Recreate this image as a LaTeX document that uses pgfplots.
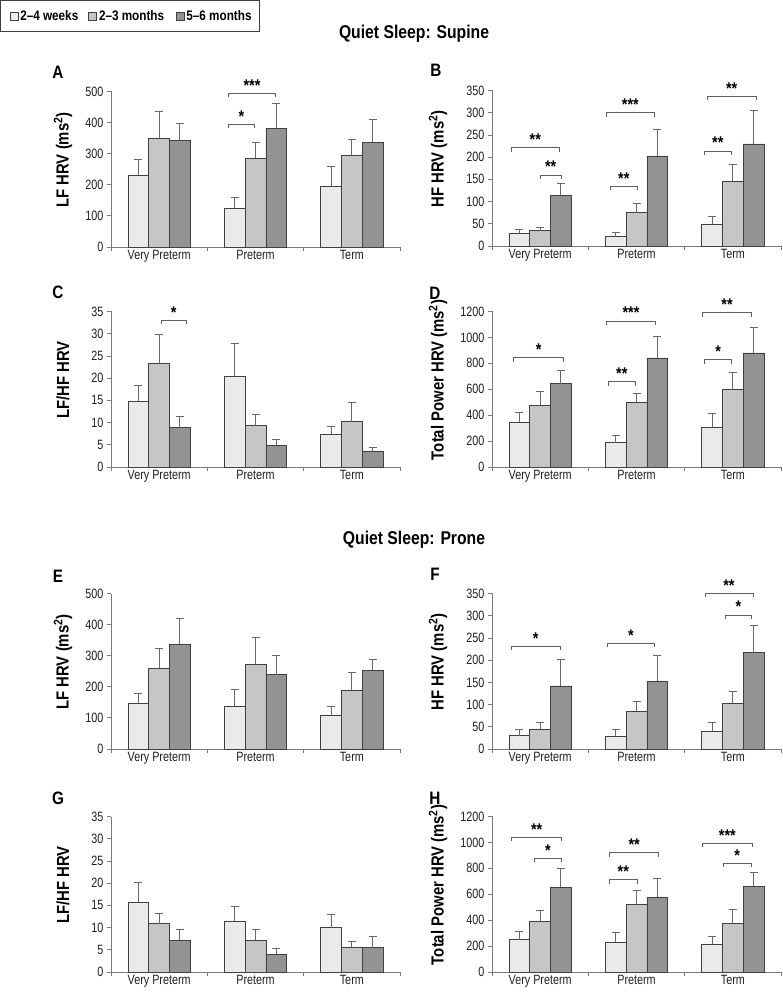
\documentclass[border=0pt]{standalone}
\usepackage{fontspec}
\setmainfont{Liberation Sans}[FakeStretch=0.85]
\newfontfamily\narrow{Liberation Sans}[FakeStretch=0.8]
\usepackage{pgfplots}
\usepackage{pgfplotstable}
\pgfplotsset{compat=1.18}
\definecolor{cl}{HTML}{EAEAEA}
\definecolor{cm}{HTML}{C6C6C6}
\definecolor{cd}{HTML}{939393}
\definecolor{bedge}{HTML}{404040}
\definecolor{errg}{HTML}{686868}
\definecolor{axg}{HTML}{7A7A7A}
\definecolor{brg}{HTML}{5E5E5E}

% columns: x, light, err, mid, err, dark, err
\pgfplotstableread{
x l le m me d de
0 231 51 350 87 342 56
1 126 33 286 50 382 78
2 195 63 295 51 336 75
}\tA
\pgfplotstableread{
x l le m me d de
0 28.5 7.5 34.5 8.2 114.7 26.3
1 21 9 75 20 203 59
2 49.5 16.5 146 38.4 230 74
}\tB
\pgfplotstableread{
x l le m me d de
0 14.8 3.5 23.4 6.4 8.9 2.5
1 20.45 7.45 9.3 2.6 4.85 1.35
2 7.4 1.7 10.2 4.3 3.6 0.9
}\tC
\pgfplotstableread{
x l le m me d de
0 345 75 477 104 643 103
1 189 52 500 68 842 164
2 308 102 596 132 881 195
}\tD
\pgfplotstableread{
x l le m me d de
0 146.6 31.4 260.8 63.2 337 83
1 137 53 272.6 84.4 239 63
2 109 28 188.6 57.4 254 34
}\tE
\pgfplotstableread{
x l le m me d de
0 30 14 44.5 15.1 142 59
1 28.7 16.3 85 22 153 58
2 40.7 18.9 102.6 27.1 217 60.6
}\tF
\pgfplotstableread{
x l le m me d de
0 15.7 4.5 10.9 2.3 7.2 2.4
1 11.5 3.3 7.2 2.4 4.05 1.25
2 10 2.9 5.55 1.25 5.5 2.45
}\tG
\pgfplotstableread{
x l le m me d de
0 249 62 390.6 84.4 655 141.5
1 228.7 79.3 521.6 110.4 578 146.6
2 216 61.5 377.7 105.3 660 110.8
}\tH

\pgfplotsset{
  panel/.style={
    scale only axis, width=289pt, height=155.5pt, anchor=south west,
    xmin=-0.5, xmax=2.5, ymin=0, clip=false,
    axis lines*=left,
    axis line style={draw=axg, line width=0.8pt},
    tick align=outside, major tick length=4pt,
    tick style={draw=axg, line width=0.8pt},
    xtick={-0.5,0.5,1.5,2.5}, xticklabels={},
    extra x ticks={0,1,2},
    extra x tick labels={Very Preterm,Preterm,Term},
    extra x tick style={major tick length=0pt},
    ybar=0pt, bar width=20.8pt,
    /pgf/number format/assume math mode=true,
    /pgf/number format/1000 sep={},
    tick label style={font=\narrow\fontsize{13.5}{15}\selectfont, text=black!88},
    legend image code/.code={%
      \path[draw=none, fill=none] (-9pt,-15.5pt) rectangle (10.4pt,15.5pt);
      \draw[#1, draw=bedge, line width=0.6pt] (0pt,-4pt) rectangle (8pt,4pt);},
  },
  leftcol/.style={every axis y label/.style={at={(axis description cs:-0.166,0.56)}, rotate=90, anchor=center,
     font=\bfseries\fontsize{17.5}{19}\selectfont, text=black}},
  rightcol/.style={every axis y label/.style={at={(axis description cs:-0.187,0.56)}, rotate=90, anchor=center,
     font=\bfseries\fontsize{17.5}{19}\selectfont, text=black}},
  errs/.style={error bars/.cd, y dir=plus, y explicit,
    error bar style={draw=errg, line width=1pt},
    error mark options={draw=errg, line width=1pt, mark size=4pt, rotate=90}},
}
\tikzset{
  brk/.style={draw=brg, line width=0.8pt},
  starlbl/.style={anchor=base, yshift=2pt, inner sep=0pt, font=\bfseries\fontsize{17}{17}\selectfont},
}
\newcommand{\br}[5]{%
  \draw[brk] ([yshift=-4pt]axis cs:#1,#3) -- (axis cs:#1,#3) -- (axis cs:#2,#3) -- ([yshift=-4pt]axis cs:#2,#3);
  \node[starlbl] at (axis cs:#5,#3) {#4};}
\newcommand{\threebars}[1]{%
  \addplot[fill=cl, draw=bedge, line width=0.6pt, errs] table[x=x, y=l, y error=le] {#1};
  \addplot[fill=cm, draw=bedge, line width=0.6pt, errs] table[x=x, y=m, y error=me] {#1};
  \addplot[fill=cd, draw=bedge, line width=0.6pt, errs] table[x=x, y=d, y error=de] {#1};}

\begin{document}
\begin{tikzpicture}
\path[use as bounding box] (0pt,0pt) rectangle (782pt,993pt);

\node[font=\bfseries\fontsize{18.5}{20}\selectfont] at (414pt,959pt) {Quiet Sleep: Supine};
\node[font=\bfseries\fontsize{18.5}{20}\selectfont] at (414pt,453pt) {Quiet Sleep: Prone};

\foreach \l/\x/\y in {A/58/921, B/436/923, C/58/701, D/435/700, E/58/417, F/435/419, G/58/195, H/435/195}
  \node[font=\bfseries\fontsize{18}{20}\selectfont] at (\x pt,\y pt) {\l};

% A
\begin{axis}[panel, leftcol, at={(111pt,746pt)}, ymax=500, ytick distance=100,
  ylabel={LF HRV (ms\textsuperscript{2})},
  legend columns=3,
  legend style={at={(axis description cs:-0.3825,1.5865)}, anchor=north west,
    draw=bedge, line width=0.8pt, inner sep=0pt, column sep=0pt, row sep=0pt,
    nodes={inner sep=0pt},
    font=\bfseries\fontsize{13.8}{15}\selectfont},
  legend cell align=left]
\threebars{\tA}
\legend{2\textendash4 weeks\hspace*{1.3pt}, 2\textendash3 months\hspace*{2.8pt}, 5\textendash6 months\hspace*{8.3pt}}
\br{0.716}{1.211}{495}{***}{0.9635}
\br{0.716}{0.993}{395}{*}{0.8545}
\end{axis}

% B
\begin{axis}[panel, rightcol, at={(492pt,747pt)}, ymax=350, ytick distance=50,
  ylabel={HF HRV (ms\textsuperscript{2})}]
\threebars{\tB}
\br{-0.302}{0.201}{221}{**}{-0.0505}
\br{0.0}{0.219}{160}{**}{0.1095}
\br{0.729}{1.007}{135}{**}{0.868}
\br{0.688}{1.184}{300}{***}{0.936}
\br{1.708}{1.98}{214}{**}{1.844}
\br{1.736}{2.24}{337}{**}{1.988}
\end{axis}

% C
\begin{axis}[panel, leftcol, at={(111pt,526pt)}, ymax=35, ytick distance=5,
  ylabel={LF/HF HRV}]
\threebars{\tC}
\br{0.018}{0.284}{33}{*}{0.151}
\end{axis}

% D
\begin{axis}[panel, rightcol, at={(492pt,526pt)}, ymax=1200, ytick distance=200,
  ylabel={Total Power HRV (ms\textsuperscript{2})}]
\threebars{\tD}
\br{-0.274}{0.243}{842}{*}{-0.0155}
\br{0.705}{0.99}{658}{**}{0.8475}
\br{0.688}{1.198}{1127}{***}{0.943}
\br{1.708}{1.986}{829}{*}{1.847}
\br{1.684}{2.195}{1192}{**}{1.9395}
\end{axis}

% E
\begin{axis}[panel, leftcol, at={(111pt,244pt)}, ymax=500, ytick distance=100,
  ylabel={LF HRV (ms\textsuperscript{2})}]
\threebars{\tE}
\end{axis}

% F
\begin{axis}[panel, rightcol, at={(492pt,244pt)}, ymax=350, ytick distance=50,
  ylabel={HF HRV (ms\textsuperscript{2})}]
\threebars{\tF}
\br{-0.302}{0.208}{231.6}{*}{-0.047}
\br{0.694}{1.1875}{238}{*}{0.941}
\br{1.71}{2.21}{350}{**}{1.96}
\br{1.92}{2.195}{301.7}{*}{2.0575}
\end{axis}

% G
\begin{axis}[panel, leftcol, at={(111pt,21pt)}, ymax=35, ytick distance=5,
  ylabel={LF/HF HRV}]
\threebars{\tG}
\end{axis}

% H
\begin{axis}[panel, rightcol, at={(492pt,21pt)}, ymax=1200, ytick distance=200,
  ylabel={Total Power HRV (ms\textsuperscript{2})}]
\threebars{\tH}
\br{-0.295}{0.222}{1038}{**}{-0.0365}
\br{-0.059}{0.222}{876}{*}{0.0815}
\br{0.719}{1.007}{711.7}{**}{0.863}
\br{0.719}{1.232}{922}{**}{0.9755}
\br{1.6875}{2.198}{994}{***}{1.943}
\br{1.903}{2.1875}{837.6}{*}{2.045}
\end{axis}
\end{tikzpicture}
\end{document}
